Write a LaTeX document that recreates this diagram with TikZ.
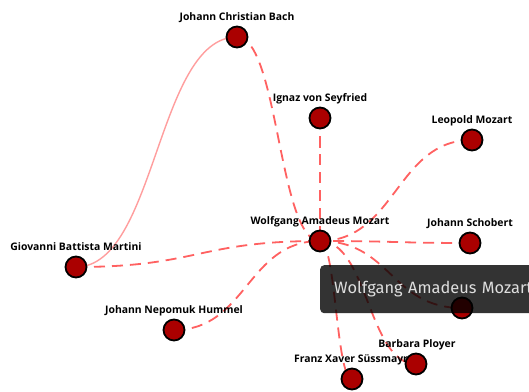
\documentclass[tikz,border=0pt]{standalone}
\usepackage{fontspec}
\setmainfont{Open Sans}
\newfontfamily\tipfont{Fira Sans}
\usetikzlibrary{calc,backgrounds}
\definecolor{nodered}{HTML}{AA0000}
\tikzset{
  person/.style={circle, draw=black, line width=1.8pt, fill=nodered, minimum size=21pt, inner sep=0pt},
  lbl/.style={font=\bfseries\fontsize{10.4pt}{12pt}\selectfont, text=black, inner sep=0pt, anchor=base},
  hlink/.style={to path={let \p1=(\tikztostart), \p2=(\tikztotarget) in
      .. controls ({(\x1+\x2)/2},\y1) and ({(\x1+\x2)/2},\y2) .. (\p2)}},
  dedge/.style={draw=red!62, line width=1.8pt, dash pattern=on 11pt off 7pt},
  sedge/.style={draw=red!38, line width=1.4pt},
  tipbox/.style={fill=black, fill opacity=0.8, text opacity=1, text=white!87!black,
    rounded corners=4pt, minimum height=48pt, inner xsep=14pt, inner ysep=0pt,
    text width=220pt, align=left, font=\tipfont\fontsize{16.4pt}{19pt}\selectfont}
}
\begin{document}
\begin{tikzpicture}[x=1pt, y=-1pt]
  \useasboundingbox (0,0) rectangle (529,391);
  \clip (0,0) rectangle (529,391);

  % people
  \node[person] (jcb) at (237,37) {};
  \node[person] (seyfried) at (320,118) {};
  \node[person] (leopold) at (472,140) {};
  \node[person] (wam) at (320,241) {};
  \node[person] (schobert) at (470,243) {};
  \node[person] (martini) at (76,267) {};
  \node[person] (hummel) at (174,330) {};
  \node[person] (pupil) at (462,308) {};
  \node[person] (ployer) at (416,364) {};
  \node[person] (suessmayr) at (352,379) {};

  % relations, behind the people
  \begin{scope}[on background layer]
    \fill[white] (0,0) rectangle (529,391);
    \draw[sedge] (martini.center) to[hlink] (jcb.center);
    \draw[dedge] (jcb.center) to[hlink] (wam.center);
    \draw[dedge] (seyfried.center) to[hlink] (wam.center);
    \draw[dedge] (leopold.center) to[hlink] (wam.center);
    \draw[dedge] (schobert.center) to[hlink] (wam.center);
    \draw[dedge] (martini.center) to[hlink] (wam.center);
    \draw[dedge] (hummel.center) to[hlink] (wam.center);
    \draw[dedge] (wam.center) to[hlink] (pupil.center);
    \draw[dedge] (wam.center) to[hlink] (ployer.center);
    \draw[dedge] (wam.center) to[hlink] (suessmayr.center);
  \end{scope}

  % names
  \node[lbl] (jcbL) at (237,20) {Johann Christian Bach};
  \node[lbl] (seyfriedL) at (320,101) {Ignaz von Seyfried};
  \node[lbl] (leopoldL) at (472,123) {Leopold Mozart};
  \node[lbl] (wamL) at (320,224) {Wolfgang Amadeus Mozart};
  \node[lbl] (schobertL) at (470,226) {Johann Schobert};
  \node[lbl] (martiniL) at (76,250) {Giovanni Battista Martini};
  \node[lbl] (hummelL) at (174,313) {Johann Nepomuk Hummel};
  \node[lbl] (ployerL) at (417,347) {Barbara Ployer};
  \node[lbl] (suessmayrL) at (351,362) {Franz Xaver Süssmayr};

  % hover tooltip, running off the right edge
  \node[tipbox, anchor=north west] (tip) at (320,265) {Wolfgang Amadeus Mozart};
\end{tikzpicture}
\end{document}
